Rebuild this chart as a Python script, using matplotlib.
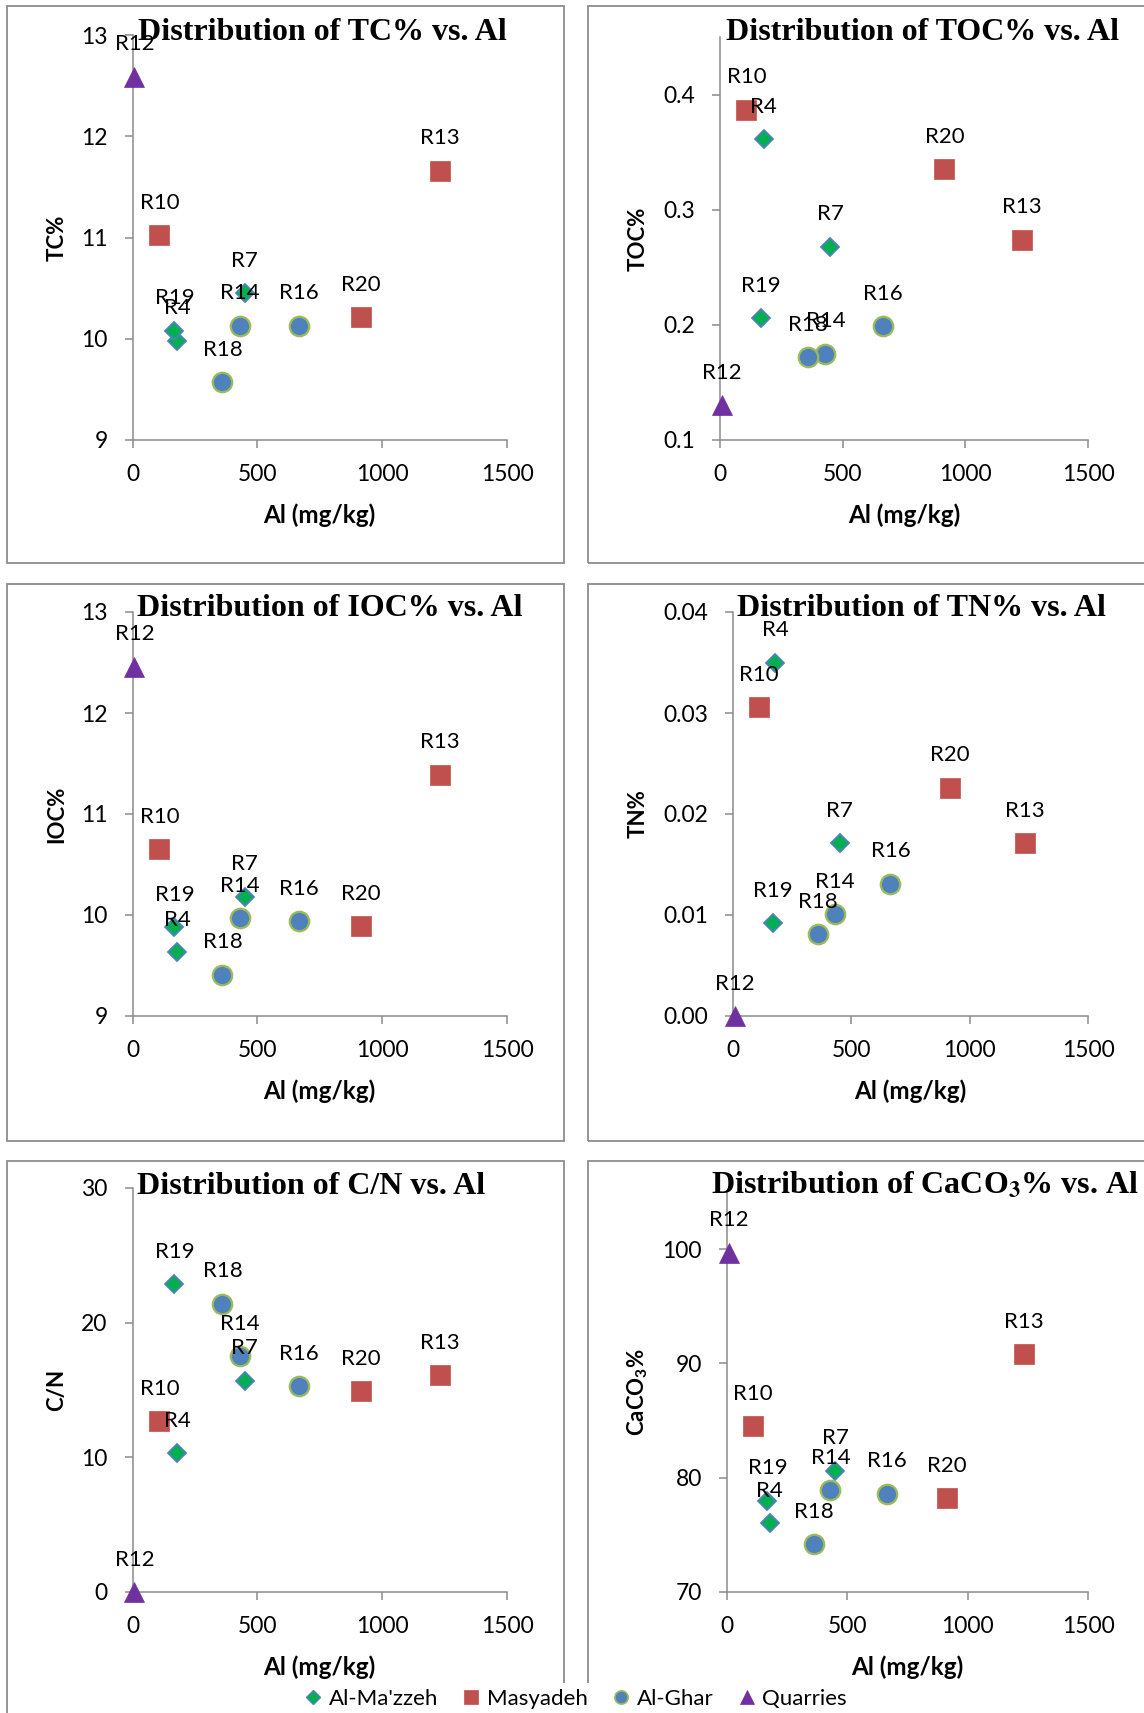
import matplotlib
matplotlib.use("Agg")
import matplotlib.pyplot as plt
from matplotlib.patches import Rectangle
from matplotlib.lines import Line2D
from matplotlib.ticker import FormatStrFormatter

plt.rcParams["font.family"] = ["Lato", "DejaVu Sans"]
plt.rcParams["mathtext.fontset"] = "custom"
plt.rcParams["mathtext.rm"] = "Lato"
plt.rcParams["mathtext.bf"] = "Lato:bold"

# ---- data -----------------------------------------------------------------
sample_ids = ["R4", "R7", "R19", "R10", "R13", "R20", "R14", "R16", "R18", "R12"]
sample_site = ["Al-Ma'zzeh", "Al-Ma'zzeh", "Al-Ma'zzeh",
               "Masyadeh", "Masyadeh", "Masyadeh",
               "Al-Ghar", "Al-Ghar", "Al-Ghar",
               "Quarries"]
al_mg_kg = [178, 450, 168, 108, 1232, 915, 430, 665, 360, 8]
tc_pct = [9.98, 10.45, 10.08, 11.02, 11.66, 10.21, 10.13, 10.13, 9.57, 12.59]
toc_pct = [0.361, 0.268, 0.206, 0.387, 0.274, 0.335, 0.175, 0.199, 0.172, 0.130]
ioc_pct = [9.63, 10.18, 9.88, 10.65, 11.39, 9.89, 9.97, 9.94, 9.41, 12.46]
tn_pct = [0.0350, 0.0171, 0.0092, 0.0306, 0.0171, 0.0226, 0.0101, 0.0131, 0.0081, 0.0]
cn_ratio = [10.3, 15.7, 22.87, 12.7, 16.1, 14.9, 17.5, 15.3, 21.4, 0.0]
caco3_pct = [76.0, 80.6, 78.0, 84.5, 90.8, 78.2, 78.9, 78.6, 74.2, 99.7]

sites = ["Al-Ma'zzeh", "Masyadeh", "Al-Ghar", "Quarries"]
x_ticks = [0, 500, 1000, 1500]

# ---- styles ---------------------------------------------------------------
site_style = {
    "Al-Ma'zzeh": dict(marker="D", ms=9.5, mfc="#00B050", mec="#4F81BD", mew=1.3),
    "Masyadeh": dict(marker="s", ms=14, mfc="#C0504D", mec="#C0504D", mew=0.5),
    "Al-Ghar": dict(marker="o", ms=14, mfc="#4F81BD", mec="#9BBB59", mew=1.6),
    "Quarries": dict(marker="^", ms=14, mfc="#7030A0", mec="#7030A0", mew=0.5),
}
legend_style = {
    "Al-Ma'zzeh": dict(marker="D", ms=7.5, mfc="#00B050", mec="#4F81BD", mew=1.0),
    "Masyadeh": dict(marker="s", ms=9.5, mfc="#C0504D", mec="#C0504D", mew=0.5),
    "Al-Ghar": dict(marker="o", ms=9.5, mfc="#4F81BD", mec="#9BBB59", mew=1.2),
    "Quarries": dict(marker="^", ms=10.5, mfc="#7030A0", mec="#7030A0", mew=0.5),
}
AXIS_GREY = "#8c8c8c"

W, H = 1144, 1713
fig = plt.figure(figsize=(W / 100, H / 100), dpi=100)
fig.patch.set_facecolor("white")


def frac_rect(left, top, right, bottom):
    return [left / W, 1 - bottom / H, (right - left) / W, (bottom - top) / H]


# chart frames
for (l, t, r, b) in [(6.5, 6.5, 563.5, 563.5), (587.5, 6.5, 1160, 563.5),
                     (6.5, 583.5, 563.5, 1140.5), (587.5, 583.5, 1160, 1140.5),
                     (6.5, 1160.5, 563.5, 1730), (587.5, 1160.5, 1160, 1730)]:
    fig.patches.append(Rectangle((l / W, 1 - b / H), (r - l) / W, (b - t) / H,
                                 transform=fig.transFigure, fill=False,
                                 edgecolor=AXIS_GREY, linewidth=1.3, zorder=1))

panels = [
    dict(vals=tc_pct, ylabel="TC%", title="Distribution of TC% vs. Al",
         ylim=(9, 13), yticks=[9, 10, 11, 12, 13], fmt="%d",
         box=(132.5, 35, 507, 440), title_xy=(322, 33), ylab_x=57),
    dict(vals=toc_pct, ylabel="TOC%", title="Distribution of TOC% vs. Al",
         ylim=(0.1, 0.45), yticks=[0.1, 0.2, 0.3, 0.4], fmt="%.1f",
         box=(720, 37, 1088, 440), title_xy=(922, 33), ylab_x=638),
    dict(vals=ioc_pct, ylabel="IOC%", title="Distribution of IOC% vs. Al",
         ylim=(9, 13), yticks=[9, 10, 11, 12, 13], fmt="%d",
         box=(132.5, 612, 507, 1016), title_xy=(330, 609), ylab_x=57),
    dict(vals=tn_pct, ylabel="TN%", title="Distribution of TN% vs. Al",
         ylim=(0, 0.04), yticks=[0, 0.01, 0.02, 0.03, 0.04], fmt="%.2f",
         box=(733, 612, 1088, 1016), title_xy=(921, 609), ylab_x=638),
    dict(vals=cn_ratio, ylabel="C/N", title="Distribution of C/N vs. Al",
         ylim=(0, 30), yticks=[0, 10, 20, 30], fmt="%d",
         box=(132.5, 1188, 507, 1592), title_xy=(311, 1186), ylab_x=57),
    dict(vals=caco3_pct, ylabel=r"CaCO$_\mathbf{3}$%",
         title=r"Distribution of CaCO$_\mathbf{3}$% vs. Al",
         ylim=(70, 105), yticks=[70, 80, 90, 100], fmt="%d",
         box=(727, 1192, 1088, 1592), title_xy=(925, 1186), ylab_x=638),
]

for p in panels:
    l, t, r, b = p["box"]
    ax = fig.add_axes(frac_rect(l, t, r, b))
    ax.set_facecolor("none")
    ax.set_xlim(0, 1500)
    ax.set_ylim(*p["ylim"])
    ax.set_xticks(x_ticks)
    ax.set_yticks(p["yticks"])
    ax.yaxis.set_major_formatter(FormatStrFormatter(p["fmt"]))
    for side in ("top", "right"):
        ax.spines[side].set_visible(False)
    for side in ("left", "bottom"):
        ax.spines[side].set_color(AXIS_GREY)
        ax.spines[side].set_linewidth(1.1)
    ax.tick_params(axis="both", direction="out", length=6, width=1.1,
                   color=AXIS_GREY, labelsize=16.5, labelcolor="black")
    ax.tick_params(axis="x", pad=11)
    ax.tick_params(axis="y", pad=12)

    for site in sites:
        xs = [a for a, s in zip(al_mg_kg, sample_site) if s == site]
        ys = [v for v, s in zip(p["vals"], sample_site) if s == site]
        ax.plot(xs, ys, linestyle="none", clip_on=False, zorder=3,
                **site_style[site])
    for name, xv, yv in zip(sample_ids, al_mg_kg, p["vals"]):
        ax.annotate(name, (xv, yv), xytext=(0, 19), textcoords="offset points",
                    ha="center", va="baseline", fontsize=16,
                    annotation_clip=False, zorder=4)

    cx = (l + r) / 2
    fig.text(cx / W, 1 - (b + 75) / H, "Al (mg/kg)", ha="center", va="center",
             fontsize=17.5, fontweight="bold")
    fig.text(p["ylab_x"] / W, 1 - ((t + b) / 2) / H, p["ylabel"], rotation=90,
             ha="center", va="center", fontsize=16, fontweight="bold",
             math_fontfamily="custom")
    tx, ty = p["title_xy"]
    fig.text(tx / W, 1 - ty / H, p["title"], ha="center", va="center",
             fontsize=23, fontweight="bold", family="Liberation Serif",
             math_fontfamily="stix", zorder=5)

handles = [Line2D([], [], linestyle="none", **legend_style[s]) for s in sites]
fig.legend(handles, sites, loc="center", bbox_to_anchor=(575 / W, 1 - 1699 / H),
           ncol=4, frameon=True, facecolor="white", edgecolor="none",
           framealpha=1, fontsize=16, handlelength=0.9, handletextpad=0.25,
           columnspacing=1.05, borderpad=0.25)

fig.savefig("out.png", dpi=100, facecolor="white")
